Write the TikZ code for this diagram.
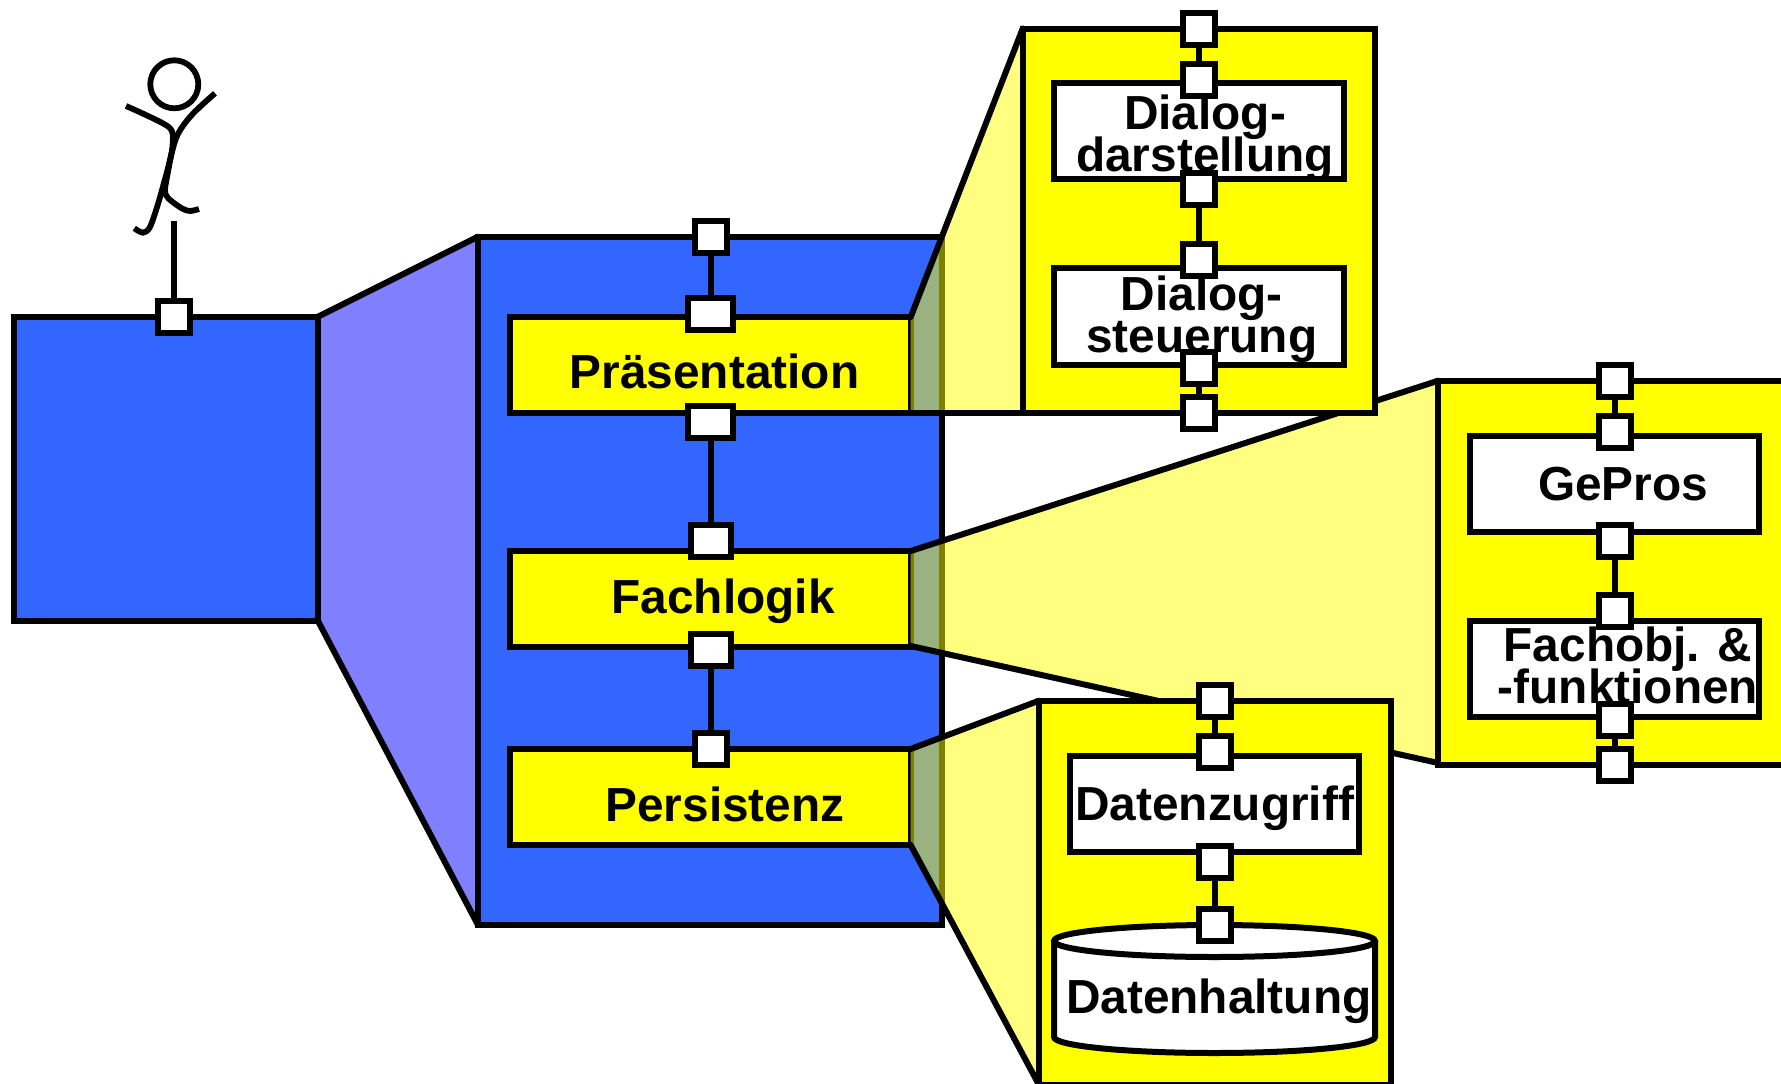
\documentclass[tikz,border=0pt]{standalone}
\usepackage{fontspec}
\setmainfont{Liberation Sans}
\definecolor{sysblue}{HTML}{3366FF}
\definecolor{zoomviolet}{HTML}{8080FF}
\definecolor{partyellow}{HTML}{FFFF00}
\tikzset{
    block/.style={draw=black, line width=6pt, inner sep=0pt, outer sep=0pt},
    bluebox/.style={block, fill=sysblue},
    layerbox/.style={block, fill=partyellow, minimum width=400.7pt, minimum height=96pt},
    detailbox/.style={block, fill=partyellow, minimum width=352.3pt, minimum height=384.2pt},
    partbox/.style={block, fill=white, minimum width=289.5pt, minimum height=96.3pt},
    portbox/.style={block, fill=white, minimum width=32pt, minimum height=32pt},
    lbl/.style={font=\bfseries\fontsize{47.8}{40.5}\selectfont, inner sep=0pt, anchor=base, align=center},
    wire/.style={black, line width=6pt},
    edgeline/.style={black, line width=6pt, line cap=round},
    wedge/.style={partyellow, fill opacity=0.5}
}
\begin{document}
\begin{tikzpicture}[x=1pt, y=-1pt]
    \clip (0,0) rectangle (1781,1084);

    \fill[zoomviolet] (318,316.7) -- (478,236.7) -- (478,925) -- (318,621) -- cycle;
    \draw[edgeline] (318,316.7) -- (478,236.7);
    \draw[edgeline] (318,621) -- (478,925);
    \node[bluebox, minimum width=304.4pt, minimum height=304.3pt] (context) at (165.8,468.8) {};
    \node[bluebox, minimum width=464.3pt, minimum height=688.3pt] (system) at (710.2,580.8) {};

    \node[layerbox] (praes) at (710.3,365) {};
    \node[layerbox] (fach) at (710.3,598.5) {};
    \node[layerbox] (pers) at (710.3,797) {};
    \node[lbl] (praeslbl) at (714.5,388) {Präsentation};
    \node[lbl] (fachlbl) at (723,613) {Fachlogik};
    \node[lbl] (perslbl) at (725,821) {Persistenz};

    \fill[wedge] (910.7,317) -- (1022.7,28.5) -- (1022.7,412.7) -- (910.7,412.7) -- cycle;
    \draw[edgeline] (910.7,317) -- (1022.7,28.5);
    \draw[edgeline] (910.7,412.7) -- (1022.7,412.7);
    \fill[wedge] (910.7,551) -- (1438.3,380.7) -- (1438.3,763) -- (910.7,646) -- cycle;
    \draw[edgeline] (910.7,551) -- (1438.3,380.7);
    \draw[edgeline] (910.7,646) -- (1438.3,763);
    \fill[wedge] (910.7,749) -- (1039,700.7) -- (1039,1084.9) -- (910.7,845) -- cycle;
    \draw[edgeline] (910.7,749) -- (1039,700.7);
    \draw[edgeline] (910.7,845) -- (1039,1084.9);

    \node[detailbox] (viewbox) at (1198.9,220.6) {};
    \node[partbox] (darst) at (1198.8,131.2) {};
    \node[partbox] (steuer) at (1198.8,316.5) {};
    \node[lbl] (darstlbl) at (1205,171.7) {Dialog-\\[-4pt]darstellung};
    \node[lbl] (steuerlbl) at (1201.7,352.7) {Dialog-\\[-0.5pt]steuerung};

    \node[detailbox] (logicbox) at (1614.5,572.9) {};
    \node[partbox] (gepros) at (1614.5,483.7) {};
    \node[partbox] (fachobj) at (1614.5,668.7) {};
    \node[lbl] (geproslbl) at (1623,500) {GePros};
    \node[lbl] (fachobjlbl) at (1628,703.3) {Fachobj. \&\\[-4pt]-funktionen};

    \node[detailbox] (storebox) at (1215.2,892.8) {};
    \node[partbox] (zugriff) at (1214.5,804) {};
    \draw[block, fill=white] (1054,941) -- (1054,1037)
        .. controls (1054,1045.8) and (1125.9,1053) .. (1214.5,1053)
        .. controls (1303.1,1053) and (1375,1045.8) .. (1375,1037) -- (1375,941);
    \draw[block, fill=white] (1214.5,941) ellipse [x radius=160.5, y radius=16];
    \node[lbl] (zugrifflbl) at (1214.7,820) {Datenzugriff};
    \node[lbl] (haltunglbl) at (1218.7,1013.3) {Datenhaltung};

    \coordinate (actorfoot) at (174.3,221);
    \node[portbox] (actorport) at (174.3,317) {};
    \node[portbox] (sysport) at (710.7,237) {};
    \node[portbox, minimum width=45pt] (praesin) at (710.7,313.5) {};
    \node[portbox, minimum width=45pt] (praesout) at (710.7,422) {};
    \node[portbox, minimum width=40.4pt] (fachin) at (710.7,540.5) {};
    \node[portbox, minimum width=40.4pt] (fachout) at (710.7,649.5) {};
    \node[portbox] (persin) at (710.7,749) {};

    \node[portbox] (viewa) at (1199,28.7) {};
    \node[portbox] (viewb) at (1199,80) {};
    \node[portbox] (viewc) at (1199,188.7) {};
    \node[portbox] (viewd) at (1199,259.5) {};
    \node[portbox] (viewe) at (1199,368) {};
    \node[portbox] (viewf) at (1199,412.7) {};

    \node[portbox] (logica) at (1614.8,381) {};
    \node[portbox] (logicb) at (1614.8,432) {};
    \node[portbox] (logicc) at (1614.8,541) {};
    \node[portbox] (logicd) at (1614.8,611.3) {};
    \node[portbox] (logice) at (1614.8,720) {};
    \node[portbox] (logicf) at (1614.8,764.7) {};

    \node[portbox] (storea) at (1214.8,700.7) {};
    \node[portbox] (storeb) at (1214.8,752.3) {};
    \node[portbox] (storec) at (1214.8,861.7) {};
    \node[portbox] (stored) at (1214.8,925) {};

    \draw[wire] (actorfoot) -- (actorport);
    \draw[wire] (sysport) -- (praesin);
    \draw[wire] (praesout) -- (fachin);
    \draw[wire] (fachout) -- (persin);
    \draw[wire] (viewa) -- (viewb);
    \draw[wire] (viewc) -- (viewd);
    \draw[wire] (viewe) -- (viewf);
    \draw[wire] (logica) -- (logicb);
    \draw[wire] (logicc) -- (logicd);
    \draw[wire] (logice) -- (logicf);
    \draw[wire] (storea) -- (storeb);
    \draw[wire] (storec) -- (stored);

    \draw[black, line width=5.8pt] (174.3,84.3) circle (24);
    \draw[black, line width=5.8pt] plot[smooth] coordinates {(215,93.3) (191.7,115) (176.7,136.7) (166.7,173) (158.3,203) (150,227) (143,232.7) (134.3,228.3)};
    \draw[black, line width=5.8pt] plot[smooth] coordinates {(126,106) (168.3,126.7) (172.7,143.3) (168.3,170) (165,190) (168.3,198.3) (181.7,208.3) (190,211) (199,209)};
\end{tikzpicture}
\end{document}
